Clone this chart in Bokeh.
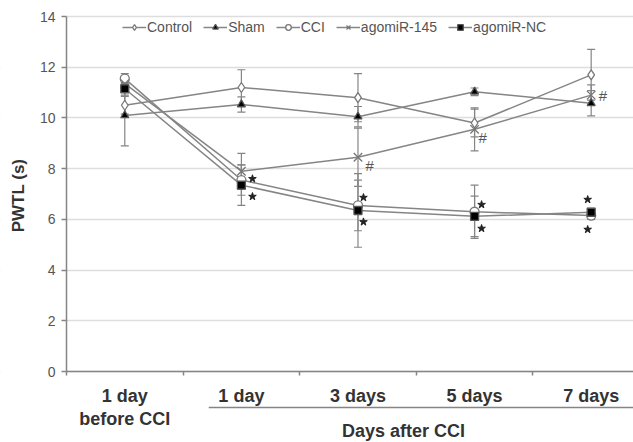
import numpy as np
from bokeh.plotting import figure
from bokeh.models import Range1d, Legend, LegendItem, FixedTicker, BoxAnnotation
from bokeh.core.properties import value
from bokeh.embed import file_html
from bokeh.resources import INLINE

# ---------------- data ----------------
cat_line1 = ["1 day", "1 day", "3 days", "5 days", "7 days"]
cat_line2 = ["before CCI", "", "", "", ""]
group_label = "Days after CCI"
y_title = "PWTL (s)"

control = [10.5, 11.2, 10.8, 9.8, 11.7]
control_err = [0.35, 0.7, 0.95, 0.55, 1.0]
sham = [10.1, 10.53, 10.05, 11.03, 10.58]
sham_err = [1.2, 0.3, 0.4, 0.15, 0.5]
cci = [11.55, 7.55, 6.55, 6.3, 6.15]
cci_err = [0.2, 0.6, 1.0, 1.05, 0.15]
ago145 = [11.35, 7.9, 8.45, 9.55, 10.9]
ago145_err = [0.3, 0.7, 1.15, 0.85, 0.4]
agonc = [11.15, 7.35, 6.35, 6.12, 6.28]
agonc_err = [0.25, 0.8, 1.45, 0.8, 0.15]

# significance marks (position along category axis, value)
star_x = [1.595, 1.595, 2.547, 2.547, 3.56, 3.56, 4.47, 4.47]
star_y = [7.6, 6.9, 6.86, 5.9, 6.58, 5.64, 6.78, 5.6]
hash_x = [2.6, 3.57, 4.6]
hash_y = [8.12, 9.23, 10.88]

y_ticks = [0, 2, 4, 6, 8, 10, 12, 14]

FONT = "Liberation Sans"
GRAY = "#858585"
X_END = 4.863

xpos = np.arange(len(cat_line1)) + 0.5

p = figure(width=633, height=442, output_backend="svg", toolbar_location=None,
           x_range=Range1d(-0.566, X_END), y_range=Range1d(-2.8, 14.631),
           min_border_left=0, min_border_right=0, min_border_top=0, min_border_bottom=0)
p.outline_line_color = None
p.background_fill_color = "white"

# axes drawn at the data origin
p.yaxis.fixed_location = 0
p.yaxis.bounds = (0, 14)
p.yaxis.ticker = FixedTicker(ticks=y_ticks)
p.yaxis.minor_tick_line_color = None
p.yaxis.major_tick_out = 5
p.yaxis.major_tick_in = 0
p.yaxis.axis_line_color = GRAY
p.yaxis.axis_line_width = 1.5
p.yaxis.major_tick_line_color = GRAY
p.yaxis.major_tick_line_width = 1.5
p.yaxis.major_label_text_font = FONT
p.yaxis.major_label_text_font_size = "14px"
p.yaxis.major_label_text_color = "#555555"
p.yaxis.major_label_standoff = 6

p.xaxis.fixed_location = 0
p.xaxis.bounds = (0, X_END)
p.xaxis.ticker = FixedTicker(ticks=[0, 1, 2, 3, 4])
p.xaxis.major_label_overrides = {0: "", 1: "", 2: "", 3: "", 4: ""}
p.xaxis.minor_tick_line_color = None
p.xaxis.major_tick_out = 4
p.xaxis.major_tick_in = 0
p.xaxis.axis_line_color = GRAY
p.xaxis.axis_line_width = 1.5
p.xaxis.major_tick_line_color = GRAY
p.xaxis.major_tick_line_width = 1.5

p.xgrid.visible = False
p.ygrid.ticker = FixedTicker(ticks=y_ticks)
p.ygrid.grid_line_color = "#dddddd"
p.ygrid.grid_line_width = 1.5

# hide grid left of the y axis
p.add_layout(BoxAnnotation(right=0, fill_color="white", fill_alpha=1, line_alpha=0, level="underlay"))

series = [
    ("Control", control, control_err, dict(marker="diamond", size=10, fill_color="white")),
    ("Sham", sham, sham_err, dict(marker="triangle", size=8, fill_color="black")),
    ("CCI", cci, cci_err, dict(marker="circle", size=9, fill_color="white")),
    ("agomiR-145", ago145, ago145_err, dict(marker="x", size=12, fill_color=None)),
    ("agomiR-NC", agonc, agonc_err, dict(marker="square", size=8, fill_color="black")),
]

# error bars
for name, vals, errs, st in series:
    v = np.array(vals); e = np.array(errs)
    p.segment(x0=xpos, y0=v - e, x1=xpos, y1=v + e, line_color=GRAY, line_width=1.2)
    p.scatter(x=np.concatenate([xpos, xpos]), y=np.concatenate([v - e, v + e]),
              marker="dash", size=8, line_color=GRAY, line_width=1.2)

items = []
for name, vals, errs, st in series:
    lr = p.line(xpos, vals, line_color=GRAY, line_width=1.5)
    lc = "#555555" if st["fill_color"] == "black" else "#777777"
    sr = p.scatter(xpos, vals, marker=st["marker"], size=st["size"],
                   fill_color=st["fill_color"], line_color=lc, line_width=1.3)
    items.append(LegendItem(label=name, renderers=[lr, sr]))

# significance marks
p.scatter(star_x, star_y, marker="star", size=8, fill_color="#222222", line_color="#222222")
p.text(hash_x, hash_y, text=["#"] * len(hash_x), text_font=value(FONT), text_font_size="15px",
       text_color="#555555", text_align="center", text_baseline="middle")

legend = Legend(items=items, orientation="horizontal", location=(120, 405),
                padding=2, spacing=11, glyph_width=24, glyph_height=14, label_standoff=1,
                label_height=14, margin=0, background_fill_alpha=0, border_line_alpha=0,
                label_text_font=FONT, label_text_font_size="14px", label_text_color="#555555")
p.add_layout(legend)

# category labels below the axis
lab_style = dict(text_font=value(FONT), text_font_size="18px", text_font_style="bold",
                 text_color="#333333", text_align="center", text_baseline="middle")
p.text(xpos, [-0.95] * len(xpos), text=cat_line1, **lab_style)
idx2 = [i for i, t in enumerate(cat_line2) if t]
p.text(xpos[idx2], [-1.88] * len(idx2), text=[cat_line2[i] for i in idx2], **lab_style)

p.segment(x0=[1.22], y0=[-1.42], x1=[X_END], y1=[-1.42], line_color=GRAY, line_width=1.5)
p.text([2.89], [-2.33], text=[group_label], **lab_style)

# y-axis title
p.text([-0.412], [6.94], text=[y_title], angle=np.pi / 2, text_font=value(FONT),
       text_font_size="17px", text_font_style="bold", text_color="#333333",
       text_align="center", text_baseline="middle")

open("out.html", "w").write(file_html(p, INLINE))
